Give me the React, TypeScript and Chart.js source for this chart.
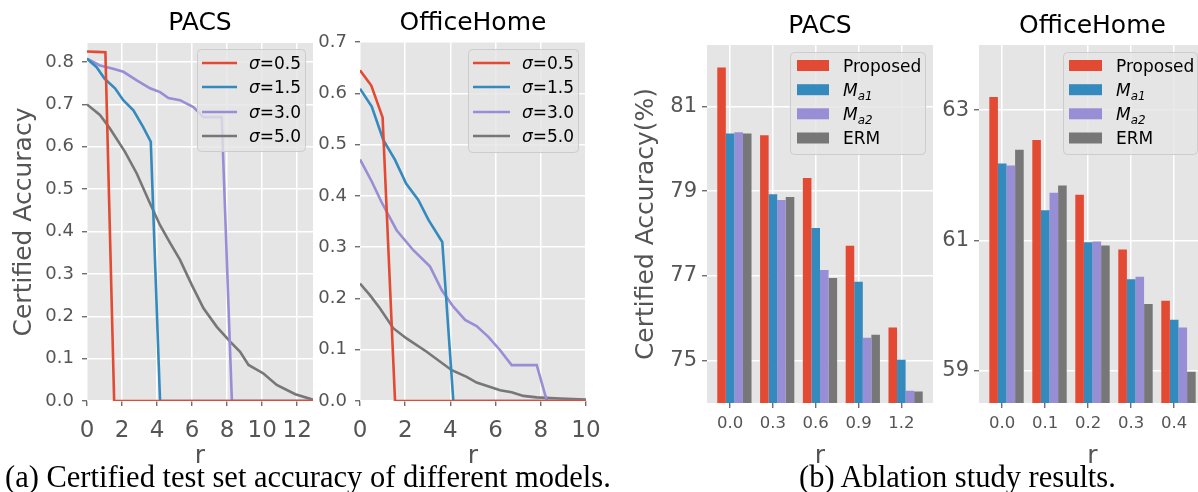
import React, { useEffect, useRef } from 'react';
import { Chart, registerables } from 'chart.js';

Chart.register(...registerables);

// ---------------- data ----------------
const sigmaLabels = ['0.5', '1.5', '3.0', '5.0'];

// PACS certified accuracy vs radius r
const pacsR05 = [0, 0.5, 1.05, 1.55, 12.9];
const pacsAcc05 = [0.825, 0.824, 0.823, 0, 0];
const pacsR15 = [0, 0.55, 1.0, 1.6, 2.07, 2.65, 3.2, 3.64, 4.17, 12.9];
const pacsAcc15 = [0.808, 0.788, 0.761, 0.738, 0.71, 0.686, 0.647, 0.612, 0, 0];
const pacsR30 = [0, 0.74, 1.44, 2.08, 2.84, 3.6, 4.17, 4.65, 5.31, 6.07, 6.65, 7.69, 8.27, 12.9];
const pacsAcc30 = [0.808, 0.792, 0.785, 0.777, 0.757, 0.738, 0.729, 0.715, 0.71, 0.694, 0.67, 0.67, 0, 0];
const pacsR50 = [0, 0.74, 1.31, 2.17, 2.84, 3.6, 4.17, 4.7, 5.31, 5.98, 6.65, 7.41, 8.17, 8.74, 9.22, 10.07, 10.83, 11.89, 12.9];
const pacsAcc50 = [0.7, 0.675, 0.643, 0.588, 0.537, 0.466, 0.415, 0.376, 0.333, 0.274, 0.219, 0.175, 0.14, 0.116, 0.085, 0.065, 0.038, 0.016, 0.003];

// OfficeHome certified accuracy vs radius r
const ohR05 = [0, 0.5, 1.0, 1.55, 10];
const ohAcc05 = [0.645, 0.615, 0.553, 0, 0];
const ohR15 = [0, 0.52, 1.03, 1.55, 2.04, 2.58, 3.03, 3.64, 4.13, 10];
const ohAcc15 = [0.609, 0.574, 0.509, 0.47, 0.424, 0.392, 0.353, 0.31, 0, 0];
const ohR30 = [0, 0.52, 0.95, 1.62, 2.36, 3.1, 3.62, 4.13, 4.65, 5.16, 5.68, 6.2, 6.71, 7.82, 8.27, 10];
const ohAcc30 = [0.471, 0.428, 0.388, 0.333, 0.294, 0.262, 0.216, 0.184, 0.158, 0.146, 0.125, 0.099, 0.07, 0.07, 0, 0];
const ohR50 = [0, 0.43, 0.88, 1.47, 2.06, 2.95, 4.06, 4.72, 5.16, 6.2, 6.71, 7.23, 7.82, 8.85, 10];
const ohAcc50 = [0.229, 0.207, 0.181, 0.142, 0.122, 0.096, 0.06, 0.047, 0.036, 0.021, 0.017, 0.01, 0.007, 0.005, 0.003];

const pacsLineXTicks = [0, 2, 4, 6, 8, 10, 12];
const ohLineXTicks = [0, 2, 4, 6, 8, 10];
const pacsLineYTicks = [0, 0.1, 0.2, 0.3, 0.4, 0.5, 0.6, 0.7, 0.8];
const ohLineYTicks = [0, 0.1, 0.2, 0.3, 0.4, 0.5, 0.6, 0.7];

// Ablation study (bars)
const barSeriesNames = ['Proposed', 'Ma1', 'Ma2', 'ERM'];
const pacsBarTicks = ['0.0', '0.3', '0.6', '0.9', '1.2'];
const pacsProposed = [81.92, 80.32, 79.31, 77.71, 75.78];
const pacsMa1 = [80.36, 78.93, 78.13, 76.86, 75.02];
const pacsMa2 = [80.39, 78.79, 77.14, 75.54, 74.29];
const pacsERM = [80.36, 78.86, 76.95, 75.61, 74.27];
const pacsBarYTicks = [75, 77, 79, 81];

const ohBarTicks = ['0.0', '0.1', '0.2', '0.3', '0.4'];
const ohProposed = [63.2, 62.54, 61.7, 60.86, 60.07];
const ohMa1 = [62.18, 61.46, 60.97, 60.4, 59.78];
const ohMa2 = [62.15, 61.73, 60.98, 60.44, 59.66];
const ohERM = [62.39, 61.84, 60.92, 60.02, 58.98];
const ohBarYTicks = [59, 61, 63];

// ---------------- style ----------------
const FONT = '"DejaVu Sans", sans-serif';
const COLORS = ['#E24A33', '#348ABD', '#988ED5', '#777777'];
const TEXT_GREY = '#555555';
const H = 492;

type Geo = { cx: number; cw: number; L: number; T: number; R: number; B: number };
const GEO: Record<string, Geo> = {
  pacsLine: { cx: 0, cw: 345, L: 87, T: 43, R: 313, B: 401 },
  ohLine: { cx: 300, cw: 320, L: 360, T: 42, R: 586, B: 401 },
  pacsBar: { cx: 600, cw: 360, L: 707, T: 45, R: 933, B: 403 },
  ohBar: { cx: 930, cw: 300, L: 979, T: 45, R: 1206, B: 403 },
};

type Part = { t: string; it?: boolean; sub?: boolean };
type LegendSpec = {
  box: [number, number, number, number];
  rows: number[];
  markX: [number, number];
  textX: number;
  kind: 'line' | 'patch';
  labels: Part[][];
};
type Deco = {
  title: string;
  titleY: number;
  ylabel?: string;
  ylabelX?: number;
  xlabelY: number;
  legend: LegendSpec;
};

const sigmaParts: Part[][] = sigmaLabels.map((s) => [{ t: 'σ', it: true }, { t: '=' + s }]);
const barParts: Part[][] = barSeriesNames.map((n) =>
  n.startsWith('M') ? [{ t: 'M', it: true }, { t: n.slice(1), it: true, sub: true }] : [{ t: n }]
);

function drawParts(ctx: CanvasRenderingContext2D, parts: Part[], x: number, baseline: number, size: number) {
  let px = x;
  for (const p of parts) {
    const fs = p.sub ? size * 0.7 : size;
    ctx.font = `${p.it ? 'italic ' : ''}${fs}px ${FONT}`;
    ctx.textAlign = 'left';
    ctx.textBaseline = 'alphabetic';
    ctx.fillText(p.t, px, p.sub ? baseline + size * 0.22 : baseline);
    px += ctx.measureText(p.t).width;
  }
}

function decoPlugin(geo: Geo, d: Deco) {
  const ox = geo.cx;
  return {
    id: 'deco',
    beforeDraw(chart: any) {
      const { ctx, chartArea: a } = chart;
      ctx.save();
      ctx.fillStyle = '#E5E5E5';
      ctx.fillRect(a.left, a.top, a.right - a.left, a.bottom - a.top);
      ctx.restore();
    },
    afterDraw(chart: any) {
      const { ctx, chartArea: a } = chart;
      const cxm = (a.left + a.right) / 2;
      ctx.save();
      // title
      ctx.fillStyle = '#000000';
      ctx.font = `25px ${FONT}`;
      ctx.textAlign = 'center';
      ctx.textBaseline = 'alphabetic';
      ctx.fillText(d.title, cxm, d.titleY);
      // x label
      ctx.fillStyle = TEXT_GREY;
      ctx.fillText('r', cxm, d.xlabelY);
      // y label
      if (d.ylabel) {
        ctx.save();
        ctx.translate(d.ylabelX! - ox, (a.top + a.bottom) / 2);
        ctx.rotate(-Math.PI / 2);
        ctx.textAlign = 'center';
        ctx.fillText(d.ylabel, 0, 0);
        ctx.restore();
      }
      // legend
      const lg = d.legend;
      const [x1, y1, x2, y2] = lg.box;
      ctx.beginPath();
      ctx.roundRect(x1 - ox + 0.5, y1 + 0.5, x2 - x1, y2 - y1, 4);
      ctx.fillStyle = 'rgba(229,229,229,0.8)';
      ctx.fill();
      ctx.strokeStyle = '#CCCCCC';
      ctx.lineWidth = 1;
      ctx.stroke();
      lg.labels.forEach((parts, i) => {
        const ry = lg.rows[i];
        if (lg.kind === 'line') {
          ctx.beginPath();
          ctx.moveTo(lg.markX[0] - ox, ry);
          ctx.lineTo(lg.markX[1] - ox, ry);
          ctx.strokeStyle = COLORS[i];
          ctx.lineWidth = 2.6;
          ctx.stroke();
        } else {
          ctx.fillStyle = COLORS[i];
          ctx.fillRect(lg.markX[0] - ox, ry - 5.5, lg.markX[1] - lg.markX[0], 11);
        }
        ctx.fillStyle = '#000000';
        drawParts(ctx, parts, lg.textX - ox, ry + 6.2, 17);
      });
      ctx.restore();
    },
  };
}

function baseScales(geo: Geo, xOpts: any, yOpts: any) {
  const grid = { color: '#FFFFFF', lineWidth: 1.5, tickColor: TEXT_GREY, tickLength: 5, tickWidth: 1.2, drawTicks: true };
  return {
    x: {
      type: 'linear',
      offset: false,
      grid: { ...grid, offset: false },
      border: { display: false },
      afterFit: (s: any) => { s.height = H - geo.B; },
      ...xOpts,
    },
    y: {
      type: 'linear',
      grid,
      border: { display: false },
      afterFit: (s: any) => { s.width = geo.L - geo.cx; },
      ...yOpts,
    },
  };
}

function commonOptions(geo: Geo, scales: any) {
  return {
    responsive: false,
    animation: false,
    devicePixelRatio: 1,
    events: [],
    layout: { padding: { left: 0, top: geo.T, right: geo.cx + geo.cw - geo.R, bottom: 0 } },
    plugins: { legend: { display: false }, tooltip: { enabled: false }, title: { display: false } },
    scales,
  };
}

function lineConfig(geo: Geo, rs: number[][], accs: number[][], xMax: number, yMax: number, xTicks: number[], yTicks: number[], deco: Deco) {
  const datasets = rs.map((r, i) => ({
    data: r.map((x, j) => ({ x, y: accs[i][j] })),
    borderColor: COLORS[i],
    backgroundColor: COLORS[i],
    borderWidth: 2.6,
    pointRadius: 0,
    tension: 0,
    fill: false,
    clip: 0,
  }));
  const scales = baseScales(
    geo,
    {
      min: 0,
      max: xMax,
      afterBuildTicks: (s: any) => { s.ticks = xTicks.map((v) => ({ value: v })); },
      ticks: { color: TEXT_GREY, font: { family: FONT, size: 23 }, padding: 11, maxRotation: 0, autoSkip: false, callback: (v: any) => String(v) },
    },
    {
      min: 0,
      max: yMax,
      afterBuildTicks: (s: any) => { s.ticks = yTicks.map((v) => ({ value: v })); },
      ticks: { color: TEXT_GREY, font: { family: FONT, size: 18 }, padding: 8, autoSkip: false, callback: (v: any) => Number(v).toFixed(1) },
    }
  );
  return {
    type: 'line',
    data: { datasets },
    options: commonOptions(geo, scales),
    plugins: [decoPlugin(geo, deco)],
  };
}

function barConfig(geo: Geo, series: number[][], tickLabels: string[], yMin: number, yMax: number, yTicks: number[], deco: Deco) {
  const datasets = series.map((vals, i) => ({
    label: barSeriesNames[i],
    data: vals.map((y, j) => ({ x: j + 0.1, y })),
    backgroundColor: COLORS[i],
    borderWidth: 0,
    categoryPercentage: 0.8,
    barPercentage: 1.0,
    clip: 0,
  }));
  const scales = baseScales(
    geo,
    {
      min: -0.54,
      max: 4.74,
      afterBuildTicks: (s: any) => { s.ticks = tickLabels.map((_, k) => ({ value: k })); },
      ticks: { color: TEXT_GREY, font: { family: FONT, size: 16.5 }, padding: 6, maxRotation: 0, autoSkip: false, callback: (v: any) => tickLabels[Math.round(Number(v))] },
    },
    {
      min: yMin,
      max: yMax,
      afterBuildTicks: (s: any) => { s.ticks = yTicks.map((v) => ({ value: v })); },
      ticks: { color: TEXT_GREY, font: { family: FONT, size: 21 }, padding: 5, autoSkip: false, callback: (v: any) => String(v) },
    }
  );
  return {
    type: 'bar',
    data: { datasets },
    options: commonOptions(geo, scales),
    plugins: [decoPlugin(geo, deco)],
  };
}

const lineLegendRows = [63, 87, 112, 136];
const barLegendRows = [65.5, 89.7, 113.8, 138];

const CONFIGS: { geo: Geo; build: () => any }[] = [
  {
    geo: GEO.pacsLine,
    build: () =>
      lineConfig(GEO.pacsLine, [pacsR05, pacsR15, pacsR30, pacsR50], [pacsAcc05, pacsAcc15, pacsAcc30, pacsAcc50], 12.9, 0.845, pacsLineXTicks, pacsLineYTicks, {
        title: 'PACS',
        titleY: 30,
        ylabel: 'Certified Accuracy',
        ylabelX: 31,
        xlabelY: 463,
        legend: { box: [197, 49, 305, 151], rows: lineLegendRows, markX: [202, 237], textX: 249, kind: 'line', labels: sigmaParts },
      }),
  },
  {
    geo: GEO.ohLine,
    build: () =>
      lineConfig(GEO.ohLine, [ohR05, ohR15, ohR30, ohR50], [ohAcc05, ohAcc15, ohAcc30, ohAcc50], 10, 0.7, ohLineXTicks, ohLineYTicks, {
        title: 'OfficeHome',
        titleY: 30,
        xlabelY: 463,
        legend: { box: [468, 49, 578, 152], rows: lineLegendRows, markX: [473, 510], textX: 522, kind: 'line', labels: sigmaParts },
      }),
  },
  {
    geo: GEO.pacsBar,
    build: () =>
      barConfig(GEO.pacsBar, [pacsProposed, pacsMa1, pacsMa2, pacsERM], pacsBarTicks, 74, 82.45, pacsBarYTicks, {
        title: 'PACS',
        titleY: 33,
        ylabel: 'Certified Accuracy(%)',
        ylabelX: 653,
        xlabelY: 463,
        legend: { box: [790, 52, 925, 154], rows: barLegendRows, markX: [797, 829], textX: 843, kind: 'patch', labels: barParts },
      }),
  },
  {
    geo: GEO.ohBar,
    build: () =>
      barConfig(GEO.ohBar, [ohProposed, ohMa1, ohMa2, ohERM], ohBarTicks, 58.5, 64, ohBarYTicks, {
        title: 'OfficeHome',
        titleY: 33,
        xlabelY: 463,
        legend: { box: [1063, 52, 1197, 154], rows: barLegendRows, markX: [1069, 1102], textX: 1116, kind: 'patch', labels: barParts },
      }),
  },
];

function ChartCanvas({ geo, build }: { geo: Geo; build: () => any }) {
  const ref = useRef<HTMLCanvasElement>(null);
  useEffect(() => {
    const chart = new Chart(ref.current as HTMLCanvasElement, build());
    return () => chart.destroy();
  }, []);
  return (
    <canvas
      ref={ref}
      width={geo.cw}
      height={H}
      style={{ position: 'absolute', left: geo.cx, top: 0, width: geo.cw, height: H }}
    />
  );
}

const captionStyle: React.CSSProperties = {
  position: 'absolute',
  top: 462,
  fontFamily: '"Liberation Serif", "Times New Roman", serif',
  fontSize: 30.5,
  lineHeight: '30px',
  color: '#000',
  whiteSpace: 'nowrap',
};

export default function App() {
  return (
    <div style={{ position: 'absolute', left: 0, top: 0, width: 1198, height: H, overflow: 'hidden', background: '#FFFFFF' }}>
      {CONFIGS.map((c, i) => (
        <ChartCanvas key={i} geo={c.geo} build={c.build} />
      ))}
      <div style={{ ...captionStyle, left: 5 }}>(a) Certified test set accuracy of different models.</div>
      <div style={{ ...captionStyle, left: 799 }}>(b) Ablation study results.</div>
    </div>
  );
}
